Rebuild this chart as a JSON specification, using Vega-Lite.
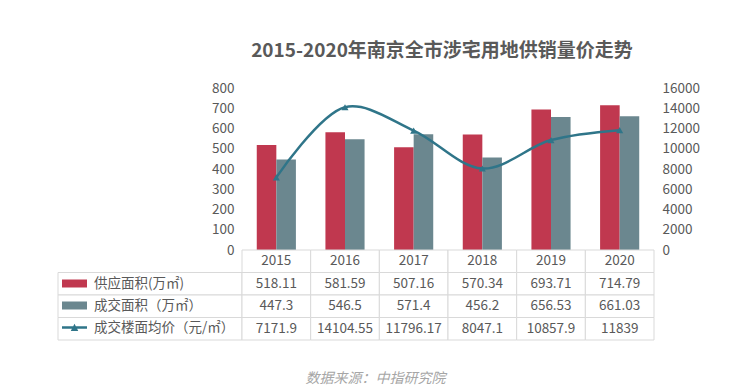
{
  "$schema": "https://vega.github.io/schema/vega-lite/v6.json",
  "background": "white",
  "padding": {"left": 57, "top": 42, "right": 5, "bottom": 5},
  "config": {"font": "Noto Sans CJK SC", "view": {"stroke": null}},
  "spacing": 0,
  "bounds": "flush",
  "columns": 2,
  "title": {"text": "数据来源：中指研究院", "orient": "bottom", "fontSize": 14, "fontStyle": "italic", "fontWeight": "normal", "color": "#A6A6A6", "anchor": "middle", "offset": 31, "dx": -3},
  "datasets": {
    "all": [
      {"year": "2015", "series": "供应面积(万㎡)", "value": 518.11},
      {"year": "2016", "series": "供应面积(万㎡)", "value": 581.59},
      {"year": "2017", "series": "供应面积(万㎡)", "value": 507.16},
      {"year": "2018", "series": "供应面积(万㎡)", "value": 570.34},
      {"year": "2019", "series": "供应面积(万㎡)", "value": 693.71},
      {"year": "2020", "series": "供应面积(万㎡)", "value": 714.79},
      {"year": "2015", "series": "成交面积（万㎡）", "value": 447.3},
      {"year": "2016", "series": "成交面积（万㎡）", "value": 546.5},
      {"year": "2017", "series": "成交面积（万㎡）", "value": 571.4},
      {"year": "2018", "series": "成交面积（万㎡）", "value": 456.2},
      {"year": "2019", "series": "成交面积（万㎡）", "value": 656.53},
      {"year": "2020", "series": "成交面积（万㎡）", "value": 661.03},
      {"year": "2015", "series": "成交楼面均价（元/㎡）", "value": 7171.9},
      {"year": "2016", "series": "成交楼面均价（元/㎡）", "value": 14104.55},
      {"year": "2017", "series": "成交楼面均价（元/㎡）", "value": 11796.17},
      {"year": "2018", "series": "成交楼面均价（元/㎡）", "value": 8047.1},
      {"year": "2019", "series": "成交楼面均价（元/㎡）", "value": 10857.9},
      {"year": "2020", "series": "成交楼面均价（元/㎡）", "value": 11839}
    ],
    "rows": [
      {"series": "供应面积(万㎡)"},
      {"series": "成交面积（万㎡）"},
      {"series": "成交楼面均价（元/㎡）"}
    ]
  },
  "resolve": {"scale": {"color": "independent", "shape": "independent"}, "legend": {"color": "independent", "shape": "independent"}},
  "concat": [
    {
      "width": 184,
      "height": 162,
      "data": {"values": [{"a": 1}]},
      "mark": {"type": "text"},
      "encoding": {"text": {"value": ""}}
    },
    {
      "width": 412,
      "height": 162,
      "title": {"text": "2015-2020年南京全市涉宅用地供销量价走势", "fontSize": 19, "fontWeight": "bold", "color": "#595959", "anchor": "middle", "offset": 20, "dx": -6},
      "data": {"name": "all"},
      "layer": [
        {
          "transform": [{"filter": {"field": "series", "oneOf": ["供应面积(万㎡)", "成交面积（万㎡）"]}}],
          "mark": {"type": "bar"},
          "encoding": {
            "x": {"field": "year", "type": "nominal", "scale": {"paddingInner": 0.43, "paddingOuter": 0.215}, "axis": null},
            "xOffset": {"field": "series", "type": "nominal", "scale": {"domain": ["供应面积(万㎡)", "成交面积（万㎡）"], "paddingInner": 0, "paddingOuter": 0}},
            "y": {"field": "value", "type": "quantitative", "scale": {"domain": [0, 800]},
              "axis": {"orient": "left", "values": [0, 100, 200, 300, 400, 500, 600, 700, 800], "domain": false, "ticks": false, "grid": false, "labelPadding": 8, "labelFontSize": 13.5, "labelColor": "#595959", "title": null}},
            "color": {"field": "series", "type": "nominal", "scale": {"domain": ["供应面积(万㎡)", "成交面积（万㎡）"], "range": ["#C0384F", "#6B878F"]}, "legend": null}
          }
        },
        {
          "transform": [{"filter": {"field": "series", "equal": "成交楼面均价（元/㎡）"}}],
          "mark": {"type": "line", "interpolate": "catmull-rom", "color": "#2F7589", "strokeWidth": 2.5,
            "point": {"shape": "triangle-up", "filled": true, "size": 50, "color": "#2F7589"}},
          "encoding": {
            "x": {"field": "year", "type": "nominal"},
            "y": {"field": "value", "type": "quantitative", "scale": {"domain": [0, 16000]},
              "axis": {"orient": "right", "values": [0, 2000, 4000, 6000, 8000, 10000, 12000, 14000, 16000], "format": "d", "domain": false, "ticks": false, "grid": false, "labelPadding": 8, "labelFontSize": 13.5, "labelColor": "#595959", "title": null}}
          }
        }
      ],
      "resolve": {"scale": {"y": "independent"}}
    },
    {
      "width": 184,
      "height": 90,
      "data": {"name": "rows"},
      "layer": [
        {
          "mark": {"type": "rect", "fill": "white", "stroke": "#D9D9D9", "strokeWidth": 1},
          "encoding": {
            "x": {"value": 0},
            "x2": {"value": "width"},
            "y": {"field": "series", "type": "nominal", "scale": {"domain": ["header", "供应面积(万㎡)", "成交面积（万㎡）", "成交楼面均价（元/㎡）"], "paddingInner": 0, "paddingOuter": 0}, "axis": null}
          }
        },
        {
          "transform": [{"filter": "false"}],
          "mark": {"type": "point", "filled": true},
          "encoding": {
            "y": {"field": "series", "type": "nominal"},
            "color": {"field": "series", "type": "nominal", "scale": {"domain": ["供应面积(万㎡)", "成交面积（万㎡）", "成交楼面均价（元/㎡）"], "range": ["#C0384F", "#6B878F", "#2F7589"]},
              "legend": {"orient": "none", "legendX": 4, "legendY": 21, "direction": "vertical", "title": null, "symbolSize": 625, "symbolStrokeWidth": 0, "symbolOpacity": 1, "labelFontSize": 13.5, "labelColor": "#595959", "labelOffset": 7, "rowPadding": 3, "padding": 0, "offset": 0}},
            "shape": {"field": "series", "type": "nominal", "scale": {"domain": ["供应面积(万㎡)", "成交面积（万㎡）", "成交楼面均价（元/㎡）"], "range": ["M-1,-0.32H1V0.32H-1Z", "M-1,-0.32H1V0.32H-1Z", "M-1,-0.1H1V0.1H-1Z M-0.3,0.28L0,-0.3L0.3,0.28Z"]},
              "legend": {"orient": "none", "legendX": 4, "legendY": 21, "direction": "vertical", "title": null, "symbolSize": 625, "symbolStrokeWidth": 0, "symbolOpacity": 1, "labelFontSize": 13.5, "labelColor": "#595959", "labelOffset": 7, "rowPadding": 3, "padding": 0, "offset": 0}}
          }
        }
      ]
    },
    {
      "width": 412,
      "height": 90,
      "data": {"name": "all"},
      "layer": [
        {
          "mark": {"type": "rect", "fill": "white", "stroke": "#D9D9D9", "strokeWidth": 1},
          "encoding": {
            "x": {"field": "year", "type": "nominal", "scale": {"paddingInner": 0, "paddingOuter": 0}, "axis": null},
            "y": {"field": "series", "type": "nominal", "scale": {"domain": ["header", "供应面积(万㎡)", "成交面积（万㎡）", "成交楼面均价（元/㎡）"], "paddingInner": 0, "paddingOuter": 0}, "axis": null}
          }
        },
        {
          "transform": [{"filter": {"field": "series", "equal": "成交楼面均价（元/㎡）"}}],
          "mark": {"type": "rect", "fill": "white", "stroke": "#D9D9D9", "strokeWidth": 1},
          "encoding": {
            "x": {"field": "year", "type": "nominal"},
            "y": {"datum": "header", "type": "nominal"}
          }
        },
        {
          "mark": {"type": "text", "fontSize": 13.5, "color": "#595959"},
          "encoding": {
            "x": {"field": "year", "type": "nominal"},
            "y": {"field": "series", "type": "nominal"},
            "text": {"field": "value", "type": "nominal"}
          }
        },
        {
          "transform": [{"filter": {"field": "series", "equal": "成交楼面均价（元/㎡）"}}],
          "mark": {"type": "text", "fontSize": 13.5, "color": "#595959"},
          "encoding": {
            "x": {"field": "year", "type": "nominal"},
            "y": {"datum": "header", "type": "nominal"},
            "text": {"field": "year", "type": "nominal"}
          }
        }
      ]
    }
  ]
}
